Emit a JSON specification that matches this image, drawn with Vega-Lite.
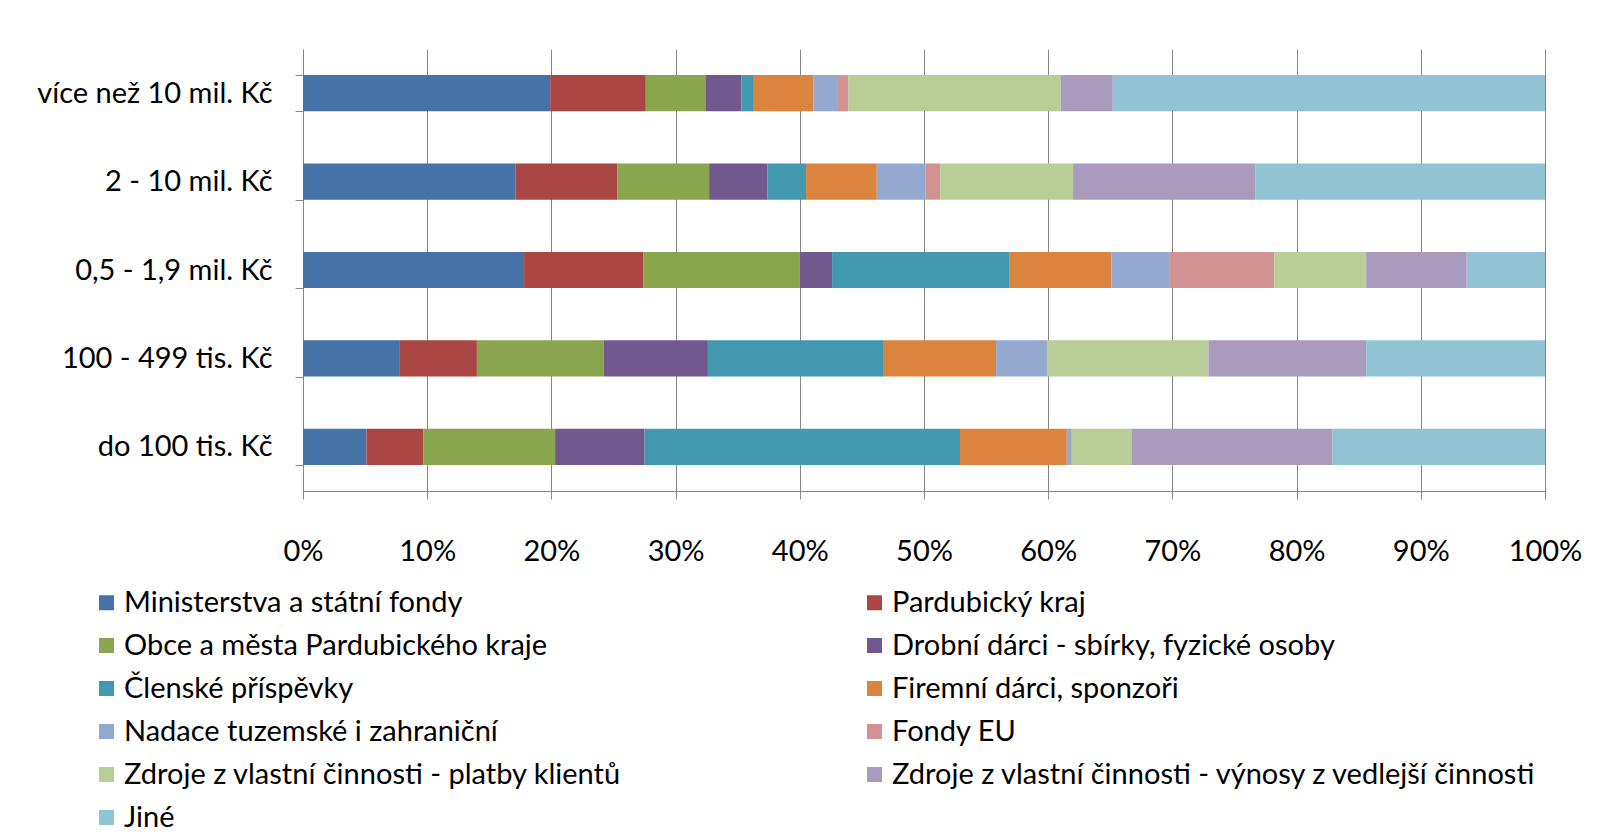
{
  "$schema": "https://vega.github.io/schema/vega-lite/v6.json",
  "width": 1242,
  "height": 442,
  "autosize": "none",
  "padding": {"left": 303, "top": 49, "right": 54, "bottom": 341},
  "background": "white",
  "config": {
    "font": "Lato",
    "view": {"stroke": null}
  },
  "datasets": {
    "zdroje": [
      {"zdroj": "Ministerstva a státní fondy", "poradi": 1},
      {"zdroj": "Pardubický kraj", "poradi": 2},
      {"zdroj": "Obce a města Pardubického kraje", "poradi": 3},
      {"zdroj": "Drobní dárci - sbírky, fyzické osoby", "poradi": 4},
      {"zdroj": "Členské příspěvky", "poradi": 5},
      {"zdroj": "Firemní dárci, sponzoři", "poradi": 6},
      {"zdroj": "Nadace tuzemské i zahraniční", "poradi": 7},
      {"zdroj": "Fondy EU", "poradi": 8},
      {"zdroj": "Zdroje z vlastní činnosti - platby klientů", "poradi": 9},
      {"zdroj": "Zdroje z vlastní činnosti - výnosy z vedlejší činnosti", "poradi": 10},
      {"zdroj": "Jiné", "poradi": 11}
    ]
  },
  "data": {
    "values": [
      {"kat": "více než 10 mil. Kč", "zdroj": "Ministerstva a státní fondy", "podil": 19.9},
      {"kat": "více než 10 mil. Kč", "zdroj": "Pardubický kraj", "podil": 7.7},
      {"kat": "více než 10 mil. Kč", "zdroj": "Obce a města Pardubického kraje", "podil": 4.8},
      {"kat": "více než 10 mil. Kč", "zdroj": "Drobní dárci - sbírky, fyzické osoby", "podil": 2.9},
      {"kat": "více než 10 mil. Kč", "zdroj": "Členské příspěvky", "podil": 1.0},
      {"kat": "více než 10 mil. Kč", "zdroj": "Firemní dárci, sponzoři", "podil": 4.8},
      {"kat": "více než 10 mil. Kč", "zdroj": "Nadace tuzemské i zahraniční", "podil": 1.9},
      {"kat": "více než 10 mil. Kč", "zdroj": "Fondy EU", "podil": 0.9},
      {"kat": "více než 10 mil. Kč", "zdroj": "Zdroje z vlastní činnosti - platby klientů", "podil": 17.1},
      {"kat": "více než 10 mil. Kč", "zdroj": "Zdroje z vlastní činnosti - výnosy z vedlejší činnosti", "podil": 4.2},
      {"kat": "více než 10 mil. Kč", "zdroj": "Jiné", "podil": 34.8},

      {"kat": "2 - 10 mil. Kč", "zdroj": "Ministerstva a státní fondy", "podil": 17.1},
      {"kat": "2 - 10 mil. Kč", "zdroj": "Pardubický kraj", "podil": 8.2},
      {"kat": "2 - 10 mil. Kč", "zdroj": "Obce a města Pardubického kraje", "podil": 7.4},
      {"kat": "2 - 10 mil. Kč", "zdroj": "Drobní dárci - sbírky, fyzické osoby", "podil": 4.7},
      {"kat": "2 - 10 mil. Kč", "zdroj": "Členské příspěvky", "podil": 3.1},
      {"kat": "2 - 10 mil. Kč", "zdroj": "Firemní dárci, sponzoři", "podil": 5.7},
      {"kat": "2 - 10 mil. Kč", "zdroj": "Nadace tuzemské i zahraniční", "podil": 3.9},
      {"kat": "2 - 10 mil. Kč", "zdroj": "Fondy EU", "podil": 1.2},
      {"kat": "2 - 10 mil. Kč", "zdroj": "Zdroje z vlastní činnosti - platby klientů", "podil": 10.7},
      {"kat": "2 - 10 mil. Kč", "zdroj": "Zdroje z vlastní činnosti - výnosy z vedlejší činnosti", "podil": 14.7},
      {"kat": "2 - 10 mil. Kč", "zdroj": "Jiné", "podil": 23.3},

      {"kat": "0,5 - 1,9 mil. Kč", "zdroj": "Ministerstva a státní fondy", "podil": 17.8},
      {"kat": "0,5 - 1,9 mil. Kč", "zdroj": "Pardubický kraj", "podil": 9.6},
      {"kat": "0,5 - 1,9 mil. Kč", "zdroj": "Obce a města Pardubického kraje", "podil": 12.6},
      {"kat": "0,5 - 1,9 mil. Kč", "zdroj": "Drobní dárci - sbírky, fyzické osoby", "podil": 2.6},
      {"kat": "0,5 - 1,9 mil. Kč", "zdroj": "Členské příspěvky", "podil": 14.3},
      {"kat": "0,5 - 1,9 mil. Kč", "zdroj": "Firemní dárci, sponzoři", "podil": 8.2},
      {"kat": "0,5 - 1,9 mil. Kč", "zdroj": "Nadace tuzemské i zahraniční", "podil": 4.7},
      {"kat": "0,5 - 1,9 mil. Kč", "zdroj": "Fondy EU", "podil": 8.4},
      {"kat": "0,5 - 1,9 mil. Kč", "zdroj": "Zdroje z vlastní činnosti - platby klientů", "podil": 7.4},
      {"kat": "0,5 - 1,9 mil. Kč", "zdroj": "Zdroje z vlastní činnosti - výnosy z vedlejší činnosti", "podil": 8.1},
      {"kat": "0,5 - 1,9 mil. Kč", "zdroj": "Jiné", "podil": 6.3},

      {"kat": "100 - 499 tis. Kč", "zdroj": "Ministerstva a státní fondy", "podil": 7.8},
      {"kat": "100 - 499 tis. Kč", "zdroj": "Pardubický kraj", "podil": 6.2},
      {"kat": "100 - 499 tis. Kč", "zdroj": "Obce a města Pardubického kraje", "podil": 10.2},
      {"kat": "100 - 499 tis. Kč", "zdroj": "Drobní dárci - sbírky, fyzické osoby", "podil": 8.4},
      {"kat": "100 - 499 tis. Kč", "zdroj": "Členské příspěvky", "podil": 14.1},
      {"kat": "100 - 499 tis. Kč", "zdroj": "Firemní dárci, sponzoři", "podil": 9.1},
      {"kat": "100 - 499 tis. Kč", "zdroj": "Nadace tuzemské i zahraniční", "podil": 4.1},
      {"kat": "100 - 499 tis. Kč", "zdroj": "Fondy EU", "podil": 0},
      {"kat": "100 - 499 tis. Kč", "zdroj": "Zdroje z vlastní činnosti - platby klientů", "podil": 13.0},
      {"kat": "100 - 499 tis. Kč", "zdroj": "Zdroje z vlastní činnosti - výnosy z vedlejší činnosti", "podil": 12.7},
      {"kat": "100 - 499 tis. Kč", "zdroj": "Jiné", "podil": 14.4},

      {"kat": "do 100 tis. Kč", "zdroj": "Ministerstva a státní fondy", "podil": 5.1},
      {"kat": "do 100 tis. Kč", "zdroj": "Pardubický kraj", "podil": 4.6},
      {"kat": "do 100 tis. Kč", "zdroj": "Obce a města Pardubického kraje", "podil": 10.6},
      {"kat": "do 100 tis. Kč", "zdroj": "Drobní dárci - sbírky, fyzické osoby", "podil": 7.2},
      {"kat": "do 100 tis. Kč", "zdroj": "Členské příspěvky", "podil": 25.4},
      {"kat": "do 100 tis. Kč", "zdroj": "Firemní dárci, sponzoři", "podil": 8.6},
      {"kat": "do 100 tis. Kč", "zdroj": "Nadace tuzemské i zahraniční", "podil": 0.4},
      {"kat": "do 100 tis. Kč", "zdroj": "Fondy EU", "podil": 0},
      {"kat": "do 100 tis. Kč", "zdroj": "Zdroje z vlastní činnosti - platby klientů", "podil": 4.8},
      {"kat": "do 100 tis. Kč", "zdroj": "Zdroje z vlastní činnosti - výnosy z vedlejší činnosti", "podil": 16.2},
      {"kat": "do 100 tis. Kč", "zdroj": "Jiné", "podil": 17.1}
    ]
  },
  "transform": [
    {"lookup": "zdroj", "from": {"data": {"name": "zdroje"}, "key": "zdroj", "fields": ["poradi"]}}
  ],
  "mark": {"type": "bar"},
  "encoding": {
    "y": {
      "field": "kat",
      "type": "nominal",
      "sort": ["více než 10 mil. Kč", "2 - 10 mil. Kč", "0,5 - 1,9 mil. Kč", "100 - 499 tis. Kč", "do 100 tis. Kč"],
      "scale": {"paddingInner": 0.59, "paddingOuter": 0.295},
      "axis": {
        "title": null,
        "labelFont": "Lato",
        "labelFontSize": 29,
        "labelColor": "#000000",
        "labelPadding": 23,
        "tickSize": 8,
        "tickBand": "extent",
        "tickColor": "#868686",
        "domainColor": "#868686",
        "labelLimit": 400
      }
    },
    "x": {
      "field": "podil",
      "type": "quantitative",
      "stack": "normalize",
      "scale": {"domain": [0, 1], "nice": false},
      "axis": {
        "title": null,
        "format": ".0%",
        "values": [0, 0.1, 0.2, 0.3, 0.4, 0.5, 0.6, 0.7, 0.8, 0.9, 1],
        "labelFont": "Lato",
        "labelFontSize": 29,
        "labelColor": "#000000",
        "labelPadding": 38,
        "tickSize": 8,
        "tickColor": "#868686",
        "domainColor": "#868686",
        "grid": true,
        "gridColor": "#868686",
        "gridWidth": 1,
        "labelFlush": false
      }
    },
    "order": {"field": "poradi", "type": "quantitative", "sort": "ascending"},
    "color": {
      "field": "zdroj",
      "type": "nominal",
      "sort": ["Ministerstva a státní fondy", "Pardubický kraj", "Obce a města Pardubického kraje", "Drobní dárci - sbírky, fyzické osoby", "Členské příspěvky", "Firemní dárci, sponzoři", "Nadace tuzemské i zahraniční", "Fondy EU", "Zdroje z vlastní činnosti - platby klientů", "Zdroje z vlastní činnosti - výnosy z vedlejší činnosti", "Jiné"],
      "scale": {
        "domain": ["Ministerstva a státní fondy", "Pardubický kraj", "Obce a města Pardubického kraje", "Drobní dárci - sbírky, fyzické osoby", "Členské příspěvky", "Firemní dárci, sponzoři", "Nadace tuzemské i zahraniční", "Fondy EU", "Zdroje z vlastní činnosti - platby klientů", "Zdroje z vlastní činnosti - výnosy z vedlejší činnosti", "Jiné"],
        "range": ["#4572A7", "#AA4643", "#89A54E", "#71588F", "#4198AF", "#DB843D", "#93A9CF", "#D19392", "#B9CD96", "#A99BBD", "#91C3D5"]
      },
      "legend": {
        "title": null,
        "orient": "none",
        "legendX": -211,
        "legendY": 539,
        "direction": "horizontal",
        "columns": 2,
        "columnPadding": 238,
        "rowPadding": 13,
        "padding": 0,
        "symbolType": "square",
        "symbolSize": 225,
        "symbolStrokeWidth": 0,
        "symbolOffset": 0,
        "labelFont": "Lato",
        "labelFontSize": 29,
        "labelColor": "#000000",
        "labelOffset": 3,
        "labelLimit": 800
      }
    }
  }
}
